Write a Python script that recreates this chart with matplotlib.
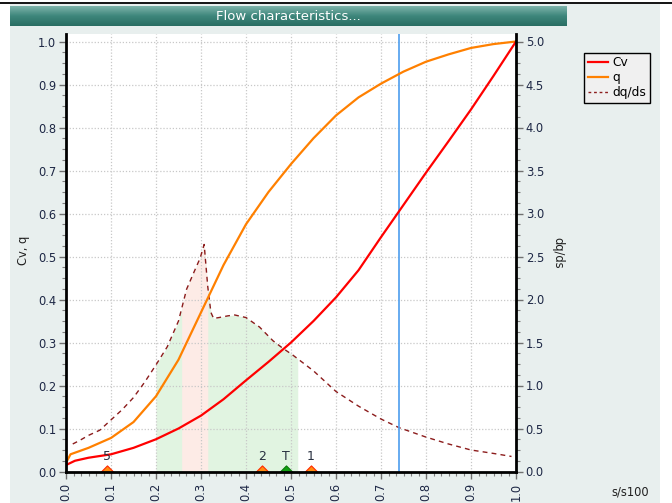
import numpy as np
import matplotlib
matplotlib.use("Agg")
import matplotlib.pyplot as plt
from matplotlib.ticker import AutoMinorLocator
from matplotlib.patches import Rectangle
from matplotlib.lines import Line2D
from matplotlib.colors import LinearSegmentedColormap

plt.rcParams['font.family'] = ['DejaVu Sans']

# ---------------- data ----------------
s_cv = [0.0, 0.02, 0.05, 0.1, 0.15, 0.2, 0.25, 0.3, 0.35, 0.4, 0.45, 0.5,
        0.55, 0.6, 0.65, 0.7, 0.75, 0.8, 0.85, 0.9, 0.95, 1.0]
cv = [0.015, 0.025, 0.032, 0.040, 0.055, 0.075, 0.10, 0.13, 0.168, 0.212, 0.255, 0.30,
      0.35, 0.405, 0.468, 0.545, 0.62, 0.695, 0.768, 0.842, 0.92, 1.0]

s_q = [0.0, 0.01, 0.05, 0.1, 0.15, 0.2, 0.25, 0.3, 0.35, 0.4, 0.45, 0.5,
       0.55, 0.6, 0.65, 0.7, 0.75, 0.8, 0.85, 0.9, 0.95, 1.0]
q = [0.02, 0.04, 0.055, 0.078, 0.115, 0.175, 0.26, 0.37, 0.48, 0.575, 0.65, 0.715,
     0.775, 0.828, 0.87, 0.902, 0.93, 0.953, 0.97, 0.985, 0.994, 1.0]

s_d = [0.015, 0.03, 0.05, 0.075, 0.1, 0.125, 0.15, 0.175, 0.2, 0.225, 0.25, 0.268,
       0.287, 0.298, 0.307, 0.315, 0.322, 0.328, 0.34, 0.36, 0.375, 0.4, 0.43, 0.46,
       0.48, 0.505, 0.55, 0.6, 0.65, 0.7, 0.74, 0.8, 0.85, 0.9, 0.95, 0.99]
dqds = [0.32, 0.36, 0.42, 0.48, 0.6, 0.72, 0.86, 1.04, 1.24, 1.45, 1.75, 2.12,
        2.35, 2.48, 2.64, 2.15, 1.85, 1.78, 1.79, 1.81, 1.82, 1.79, 1.68, 1.52,
        1.44, 1.35, 1.17, 0.93, 0.76, 0.61, 0.51, 0.40, 0.32, 0.25, 0.21, 0.175]

green_range = (0.2, 0.515)
pink_range = (0.257, 0.315)
cursor_s = 0.74

marker_s = [0.091, 0.436, 0.489, 0.544]
marker_labels = ['5', '2', 'T', '1']
marker_kind = ['orange', 'orange', 'green', 'orange']

xticks = np.round(np.arange(0, 1.01, 0.1), 1)
yticks_left = np.round(np.arange(0, 1.01, 0.1), 1)
yticks_right = np.round(np.arange(0, 5.01, 0.5), 1)

# ---------------- figure ----------------
W, H = 672, 503
fig = plt.figure(figsize=(W / 100, H / 100), dpi=100, facecolor='white')

def fx(px):
    return px / W

def fy(py):
    return 1 - py / H

# panel background (as a full-figure axes placed behind everything)
bg = fig.add_axes([0, 0, 1, 1], zorder=-10)
bg.set_axis_off()
bg.set_xlim(0, W)
bg.set_ylim(H, 0)
bg.add_patch(Rectangle((10, 4), 650, H - 4, facecolor='#e8efee', edgecolor='none'))
bg.plot([0, W], [2.5, 2.5], color='black', lw=1.3)

# title bar gradient
tax = fig.add_axes([fx(10), fy(26), fx(557), 20 / H], zorder=1)
grad = np.linspace(0, 1, 64).reshape(-1, 1)
cmap = LinearSegmentedColormap.from_list('bar', ['#7db3aa', '#3d867b', '#2a6e63'])
tax.imshow(grad, aspect='auto', cmap=cmap, extent=[0, 1, 0, 1], origin='upper')
tax.set_axis_off()
tax.text(0.5, 0.45, 'Flow characteristics...', color='white', fontsize=9.5,
         ha='center', va='center', transform=tax.transAxes)

# main axes
top_px = 34
bot_px = 471.5
ax_h = (bot_px - top_px) / H
ax2 = fig.add_axes([fx(66), fy(bot_px), fx(450), ax_h], zorder=2)
ax = ax2.twinx()
ax.set_zorder(3)
ax.yaxis.tick_left()
ax.yaxis.set_label_position('left')
ax2.yaxis.tick_right()
ax2.set_facecolor('white')
ax.patch.set_visible(False)

ymax = (bot_px - top_px) / 430
ax.set_xlim(0, 1)
ax2.set_xlim(0, 1)
ax.set_ylim(0, ymax)
ax2.set_ylim(0, 5 * ymax)

# shaded regions under dq/ds (on right axis)
s_d_arr = np.array(s_d)
d_arr = np.array(dqds)
gx = np.linspace(green_range[0], green_range[1], 300)
ax2.fill_between(gx, 0, np.interp(gx, s_d_arr, d_arr), color='#e1f4e1', lw=0, zorder=0.5)
px_ = np.linspace(pink_range[0], pink_range[1], 100)
ax2.fill_between(px_, 0, np.interp(px_, s_d_arr, d_arr), color='#fdebe6', lw=0, zorder=0.6)

# grid on right axis (same positions)
ax2.set_yticks(yticks_right)
ax2.set_xticks(xticks)
ax2.grid(True, color='#c8c8c8', linestyle=(0, (1, 1.5)), lw=0.9)

# dq/ds dashed
ax2.plot(s_d, dqds, color='#8c1c1c', lw=1.0, linestyle=(0, (3.5, 3)), zorder=2)

# cursor
ax.axvline(cursor_s, color='#5aa5ef', lw=1.3, zorder=1.8)

# Cv and q
ax.plot(s_q, q, color='#ff8000', lw=1.6, zorder=3, label='q')
ax.plot(s_cv, cv, color='#ff0000', lw=1.6, zorder=4, label='Cv')

# markers
tri = [(-1, 0), (1, 0), (0, 1), (-1, 0)]
for s, lab, kind in zip(marker_s, marker_labels, marker_kind):
    if kind == 'green':
        fc, ec = '#12a012', '#0a7a0a'
    else:
        fc, ec = '#ff8c10', '#ff2a00'
    ax.plot([s], [0], marker=tri, markersize=9.5, markerfacecolor=fc,
            markeredgecolor=ec, markeredgewidth=0.8, linestyle='none',
            clip_on=False, zorder=6)
    ax.annotate(lab, (s, 0), xytext=(0, 10.5), textcoords='offset points',
                ha='center', va='center', fontsize=9, color='#283040', zorder=7)

# spines
for a in (ax, ax2):
    a.spines['top'].set_visible(False)
for side in ('left', 'bottom', 'right'):
    ax.spines[side].set_linewidth(2.0)
    ax.spines[side].set_color('black')
    ax.spines[side].set_zorder(8)
    ax2.spines[side].set_visible(False)

# ticks
tick_col = '#1d2745'
ax.set_yticks(yticks_left)
ax.set_yticklabels([f'{v:.1f}' for v in yticks_left])
ax.yaxis.set_minor_locator(AutoMinorLocator(4))
ax2.set_yticklabels([f'{v:.1f}' for v in yticks_right])
ax2.yaxis.set_minor_locator(AutoMinorLocator(4))
ax2.set_xticklabels([f'{v:.1f}' for v in xticks], rotation=90)
ax2.xaxis.set_minor_locator(AutoMinorLocator(6))
ax.tick_params(axis='x', which='both', bottom=False, labelbottom=False)
for a in (ax, ax2):
    a.tick_params(which='major', length=5, width=1.0, color='#707070',
                  labelsize=8.3, labelcolor=tick_col, pad=2)
    a.tick_params(which='minor', length=3, width=0.8, color='#808080')
ax2.tick_params(axis='x', pad=3)

# labels
fig.text(fx(24), fy(250), 'Cv, q', rotation=90, ha='center', va='center',
         fontsize=8.3, color='#202020', zorder=5)
fig.text(fx(558), fy(253), 'dq/ds', rotation=270, ha='center', va='center',
         fontsize=8.3, color='#202020', zorder=5)
fig.text(fx(630), fy(492), 's/s100', ha='center', va='center',
         fontsize=8.3, color='#202020', zorder=5)

# legend
h_cv = Line2D([], [], color='#ff0000', lw=1.6)
h_q = Line2D([], [], color='#ff8000', lw=1.6)
h_d = Line2D([], [], color='#8c1c1c', lw=1.0, linestyle=(0, (2, 2)))
leg = fig.legend([h_cv, h_q, h_d], ['Cv', 'q', 'dq/ds'],
                 loc='upper left', bbox_to_anchor=(fx(584), fy(52.5)),
                 frameon=True, fancybox=False, fontsize=8.8,
                 handlelength=1.7, handletextpad=0.3, borderpad=0.3,
                 labelspacing=0.15, borderaxespad=0)
leg.set_zorder(10)
leg.get_frame().set_facecolor('#f0f0f0')
leg.get_frame().set_edgecolor('black')
leg.get_frame().set_linewidth(1.0)
leg.get_frame().set_alpha(1)

fig.savefig('out.png', dpi=100, facecolor='white')
